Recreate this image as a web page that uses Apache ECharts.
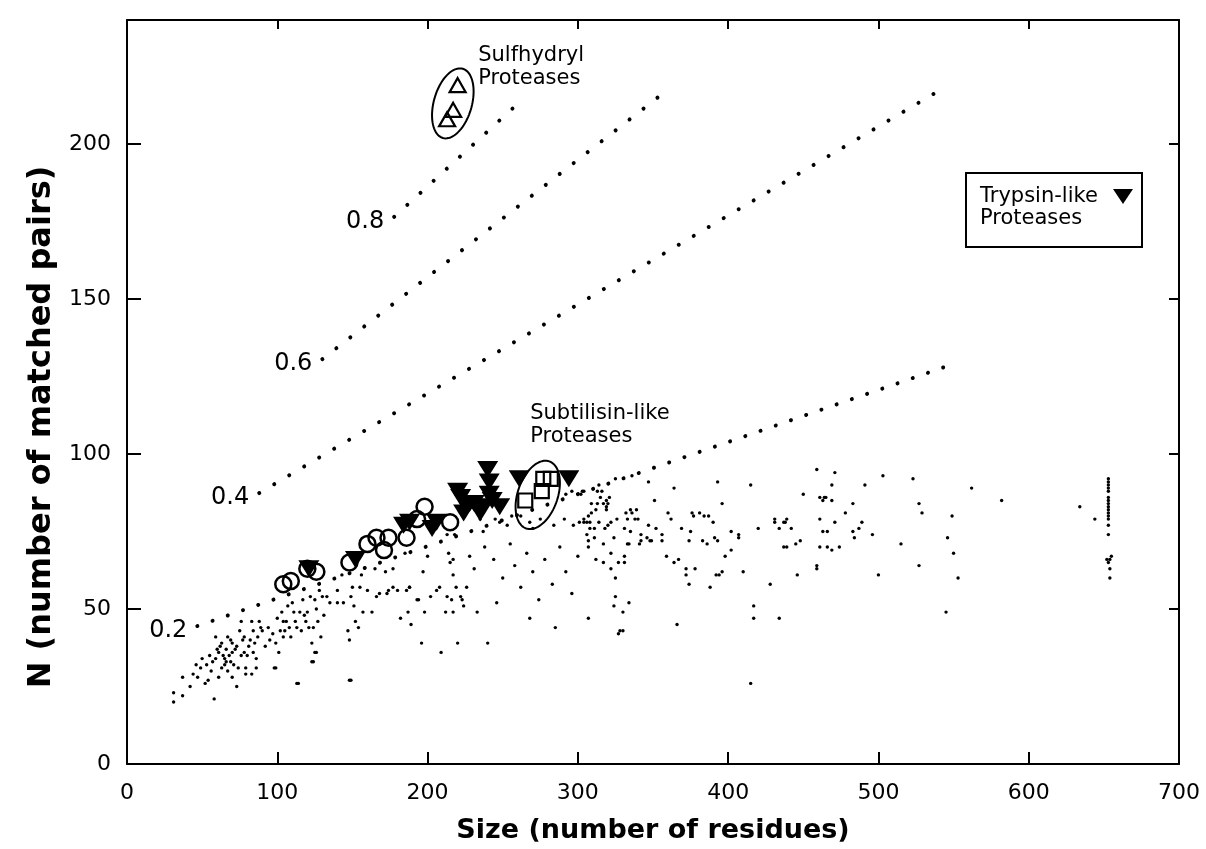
<!DOCTYPE html>
<html><head><meta charset="utf-8">
<script src="https://cdn.jsdelivr.net/npm/echarts@6/dist/echarts.min.js"></script>
<style>html,body{margin:0;padding:0;background:#fff}#c{width:1206px;height:849px}</style>
</head><body><div id="c"></div>
<script>
const FONT = 'DejaVu Sans';
const xTicks = [0, 100, 200, 300, 400, 500, 600, 700];
const yTicks = [0, 50, 100, 150, 200];
const xTitle = 'Size (number of residues)';
const yTitle = 'N (number of matched pairs)';

// background: all other proteins (small dots)
const backgroundDots = [
[31,23],[31,20],[37,28],[37,22],[44,29],[47,28],[49,31],[50,34],[52,26],[53,32],[54,27],[56,30],[58,21],[59,41],[59,34],[60,37],[62,38],[63,31],[64,35],[65,34],[65,32],[66,37],[67,30],[67,41],[68,35],[69,33],[69,40],[70,36],[72,37],[73,25],[74,31],[75,43],[76,46],[77,40],[78,41],[79,31],[80,35],[82,40],[83,46],[83,29],[84,43],[85,39],[86,34],[87,41],[88,46],[89,44],[90,43],[94,44],[99,31],[99,39],[100,47],[102,43],[103,49],[104,41],[105,43],[106,46],[107,51],[109,41],[110,52],[112,46],[114,26],[115,49],[116,43],[117,53],[119,46],[120,49],[122,54],[123,39],[124,44],[124,33],[125,53],[126,36],[127,46],[128,56],[129,41],[130,54],[133,54],[140,56],[143,61],[144,52],[147,43],[148,40],[148,27],[149,54],[150,57],[152,46],[154,44],[155,57],[156,61],[160,56],[163,49],[165,63],[168,55],[172,62],[174,56],[177,63],[180,56],[182,47],[185,68],[187,49],[188,57],[189,45],[194,53],
[57,33],[61,36],[63,39],[66,33],[70,39],[71,32],[73,38],[76,35],[78,36],[81,38],[84,36],[86,31],[92,38],[95,40],[97,42],[101,36],[104,46],[108,44],[111,49],[113,44],[118,48],[121,44],[126,50],[131,48],[135,52],[42,25],[46,32],[55,35],[61,28],[70,28],
[214,68],[215,65],[217,66],[217,61],[219,57],[222,54],[223,53],[224,51],[217,49],[216,53],[213,54],[208,57],[206,56],[202,54],[197,62],[200,67],[231,63],[233,49],[226,57],[228,67],[212,49],[198,49],[193,53],[188,57],[186,56],[177,57],[173,55],[166,54],[157,49],[151,51],[140,52],
[196,39],[209,36],[220,39],[240,39],[328,43],[366,45],[415,26],[149,27],[113,26],[123,33],[98,31],[125,36],[79,29],
[213,74],[218,74],[235,79],[237,75],[245,79],[248,78],[253,77],[256,80],[262,80],[268,78],[270,76],[275,79],[284,77],[291,79],[292,87],[296,88],[297,77],[301,78],[304,79],[309,81],[311,76],[325,92],[326,79],[331,76],[333,79],[336,93],[336,81],[339,82],
[238,70],[244,66],[250,60],[255,71],[258,64],[262,57],[266,68],[270,62],[274,53],[278,66],[283,58],[288,70],[292,62],[296,55],[300,67],[246,52],[268,47],[285,44],
[303,88],[302,87],[304,88],[314,90],[313,88],[315,86],[309,84],[312,82],[313,84],[307,80],[304,78],[306,78],[308,78],[314,78],[308,76],[306,74],[311,73],[307,72],[307,70],[312,66],[307,47],
[316,88],[317,84],[319,83],[320,84],[319,85],[319,82],[321,86],[318,76],[320,77],[322,78],[324,73],[317,71],[322,68],[317,65],[322,63],[327,65],[331,65],[331,67],[325,60],[325,54],[324,51],[330,49],[334,52],[327,42],[330,43],[332,81],[335,82],[335,75],[338,79],[340,79],[342,72],[342,74],[346,73],[347,77],[348,72],[349,72],[352,76],[356,72],[356,74],[333,71],[334,71],[341,71],[347,91],[351,85],[360,81],[362,79],[364,89],[359,67],[364,65],[367,66],[369,76],[372,63],[372,61],[374,58],[378,63],[375,75],[374,72],[376,81],[377,80],[381,81],[384,80],[387,80],[390,78],[383,72],[386,71],[391,73],[393,72],[393,91],[396,84],[398,67],[402,69],[402,75],[407,74],[407,73],[392,61],[394,61],[396,62],[388,57],[410,62],[415,90],[420,76],[417,51],[417,47],[428,58],[434,47],[431,79],[431,78],[434,76],[437,78],[438,78],[439,79],[442,76],[437,70],[439,70],[445,71],[448,72],[446,61],[459,64],[459,63],[450,87],[459,95],[461,86],[464,86],[463,85],[465,86],[469,90],[469,85],[471,94],[461,79],[463,75],[466,75],[471,78],[461,70],[466,70],[469,69],[474,70],[478,81],[483,84],[483,75],[484,73],[487,76],[489,78],[491,90],[496,74],[503,93],[500,61],[515,71],[523,92],[527,84],[529,81],[527,64],[546,73],[549,80],[550,68],[553,60],[545,49],[562,89],[582,85],[634,83],[644,79],
[653,92],[653,91],[653,90],[653,89],[653,88],[653,86],[653,85],[653,84],[653,83],[653,82],[653,81],[653,80],[653,79],[653,77],[653,74],[652,66],[654,66],[655,67],[653,65],[654,63],[654,60]
];
// open circles
const circleProteins = [[104,58],[109,59],[120,63],[126,62],[148,65],[160,71],[166,73],[171,69],[174,73],[186,73],[193,79],[198,83],[215,78]];
// trypsin-like proteases (filled down triangles)
const trypsinLike = [[121,63],[152,66],[184,77],[188,78],[203,76],[206,78],[220,88],[222,86],[224,81],[225,84],[228,84],[231,84],[235,81],[237,83],[240,95],[241,91],[241,87],[243,85],[248,83],[261,92],[294,92]];
// subtilisin-like proteases (open squares)
const subtilisinLike = [[265,85],[276,88],[277,92],[282,92]];
// sulfhydryl proteases (open triangles)
const sulfhydryl = [[220,219],[217,211],[213,208]];
// dotted reference lines
const line02 = [[46.8,44.5],[547.8,128.7]];
const line04 = [[88,87.4],[544.5,218.4]];
const line06 = [[130,130.6],[362.1,218.4]];
const line08 = [[177.8,176.5],[265,215.2]];
const lineNames = ['0.2','0.4','0.6','0.8'];
// group annotations
const ellipseCenters = [[216.8,213.1],[273.3,86.8]];
const groupNames = ['Sulfhydryl\nProteases','Subtilisin-like\nProteases'];
const groupAnchors = [[233.7,224.8],[268.3,109.4]];
const legendText = ['Trypsin-like','Proteases'];

const ELLIPSE_GEOM = [{a:36,b:19,tilt:16},{a:35.5,b:20,tilt:19}];
const DASH = [16.1, 17.4, 17.7, 17.8];

const chart = echarts.init(document.getElementById('c'), null, {renderer:'canvas'});
const axisCommon = {
  type:'value', splitLine:{show:false},
  axisLine:{show:true, onZero:false, lineStyle:{color:'#000', width:2}},
  axisLabel:{color:'#000', fontFamily:FONT, fontSize:22}
};
const lines = [line02,line04,line06,line08];
const series = [];
lines.forEach((l,i)=>{
  series.push({type:'line', data:l, symbol:'none', silent:true, z:1,
    lineStyle:{color:'#000', width:4, opacity:1, type:[0.01, DASH[i]], cap:'round'}});
});
series.push({type:'scatter', silent:true, symbolSize:0, z:5, itemStyle:{opacity:1},
  data: lines.map((l,i)=>({value:l[0], name:lineNames[i]})),
  label:{show:true, position:'left', distance:10, offset:[0,5], formatter:p=>p.name,
    fontFamily:FONT, fontSize:24, color:'#000', opacity:1}});
series.push({type:'scatter', data:backgroundDots, symbol:'circle', symbolSize:3.4, silent:true, z:2,
  itemStyle:{color:'#000', opacity:1}});
series.push({type:'scatter', data:circleProteins, symbol:'circle', symbolSize:16, silent:true, z:3,
  itemStyle:{color:'rgba(255,255,255,0)', borderColor:'#000', borderWidth:2.5, opacity:1}});
series.push({type:'scatter', name:'Trypsin-like', data:trypsinLike, symbol:'triangle', symbolRotate:180, symbolSize:[21,17], silent:true, z:4,
  itemStyle:{color:'#000', opacity:1}});
series.push({type:'scatter', data:subtilisinLike, symbol:'rect', symbolSize:14, silent:true, z:4,
  itemStyle:{color:'rgba(255,255,255,0)', borderColor:'#000', borderWidth:2.2, opacity:1}});
series.push({type:'scatter', data:sulfhydryl, symbol:'triangle', symbolSize:[16,14], silent:true, z:4,
  itemStyle:{color:'rgba(255,255,255,0)', borderColor:'#000', borderWidth:2.2, opacity:1}});
series.push({type:'custom', data:ellipseCenters, silent:true, z:5, encode:{x:0,y:1},
  renderItem:(params, api)=>{
    const g = ELLIPSE_GEOM[params.dataIndex];
    const c = api.coord([api.value(0), api.value(1)]);
    const th = g.tilt*Math.PI/180;
    const ux=Math.sin(th), uy=-Math.cos(th), vx=Math.cos(th), vy=Math.sin(th);
    const pts=[];
    for(let i=0;i<90;i++){const t=i/90*2*Math.PI;
      pts.push([c[0]+g.a*Math.cos(t)*ux+g.b*Math.sin(t)*vx, c[1]+g.a*Math.cos(t)*uy+g.b*Math.sin(t)*vy]);}
    return {type:'polygon', shape:{points:pts}, style:{fill:null, stroke:'#000', lineWidth:2}};
  }});
series.push({type:'scatter', silent:true, symbolSize:0, z:5, itemStyle:{opacity:1},
  data: groupAnchors.map((a,i)=>({value:a, name:groupNames[i]})),
  label:{show:true, position:'right', distance:0, formatter:p=>p.name, align:'left',
    fontFamily:FONT, fontSize:21, lineHeight:23, color:'#000', opacity:1}});

chart.setOption({
  animation:false,
  backgroundColor:'#fff',
  grid:{left:127, right:27, top:20, bottom:85, containLabel:false, outerBoundsMode:'none'},
  xAxis:[
    Object.assign({}, axisCommon, {min:xTicks[0], max:xTicks[xTicks.length-1], interval:xTicks[1]-xTicks[0], position:'bottom',
      axisTick:{inside:true, length:12, lineStyle:{color:'#000', width:2}},
      axisLabel:Object.assign({}, axisCommon.axisLabel, {margin:18})}),
    Object.assign({}, axisCommon, {min:xTicks[0], max:xTicks[xTicks.length-1], interval:xTicks[1]-xTicks[0], position:'top',
      axisTick:{inside:true, length:9, lineStyle:{color:'#000', width:2}}, axisLabel:{show:false}})
  ],
  yAxis:[
    Object.assign({}, axisCommon, {min:yTicks[0], max:240, interval:yTicks[1]-yTicks[0], position:'left',
      axisTick:{inside:true, length:14, lineStyle:{color:'#000', width:2}},
      axisLabel:Object.assign({}, axisCommon.axisLabel, {margin:16, showMaxLabel:false})}),
    Object.assign({}, axisCommon, {min:yTicks[0], max:240, interval:yTicks[1]-yTicks[0], position:'right',
      axisTick:{inside:true, length:10, lineStyle:{color:'#000', width:2}}, axisLabel:{show:false}})
  ],
  series: series,
  graphic:[
    {type:'text', x:42, y:427, rotation:Math.PI/2, style:{text:yTitle, fontFamily:FONT, fontWeight:'bold', fontSize:32, fill:'#000', align:'center', verticalAlign:'middle'}},
    {type:'text', x:653, y:831, style:{text:xTitle, fontFamily:FONT, fontWeight:'bold', fontSize:27, fill:'#000', align:'center', verticalAlign:'middle'}},
    {type:'group', children:[
      {type:'rect', shape:{x:966, y:173, width:176, height:74}, style:{fill:'#fff', stroke:'#000', lineWidth:2}},
      {type:'text', x:980, y:197, style:{text:legendText[0], fontFamily:FONT, fontSize:21, fill:'#000', align:'left', verticalAlign:'middle'}},
      {type:'text', x:980, y:219, style:{text:legendText[1], fontFamily:FONT, fontSize:21, fill:'#000', align:'left', verticalAlign:'middle'}},
      {type:'polygon', shape:{points:[[1113,189],[1133,189],[1123,204]]}, style:{fill:'#000'}}
    ]}
  ]
});
</script></body></html>
